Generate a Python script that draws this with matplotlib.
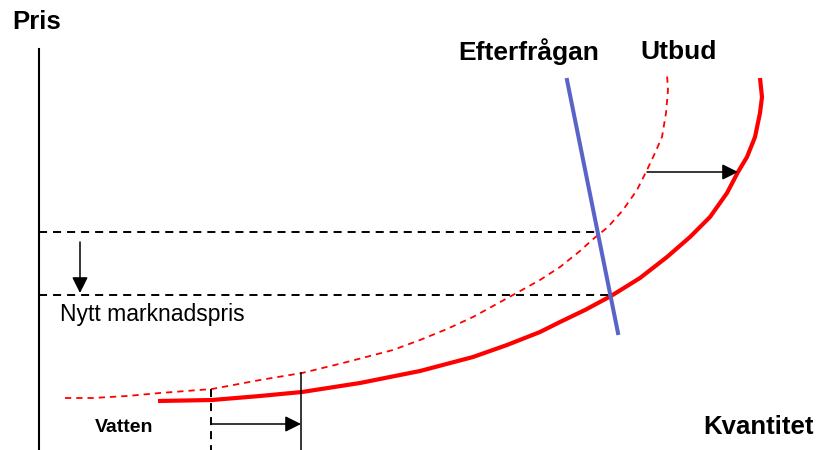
import matplotlib.pyplot as plt

plt.rcParams['font.family'] = ['Liberation Sans', 'DejaVu Sans']
plt.rcParams['lines.scale_dashes'] = False

# old supply curve (dashed) in pixel coords
old_x = [65, 93, 127, 160, 212, 260, 302, 343, 393, 420, 447, 473, 493, 513, 540, 560,
         580, 592, 608, 623, 637, 647, 655, 662, 666, 668, 667]
old_y = [398, 398, 396, 393, 389, 380, 373, 363, 350, 340, 329, 317, 306, 295, 280, 267,
         251, 240, 227, 210, 190, 170, 153, 137, 113, 90, 75]

# new supply curve (solid)
new_x = [158, 212, 260, 302, 360, 420, 473, 507, 540, 560, 585, 611, 640, 667, 690, 710,
         727, 738, 747, 755, 760, 762, 760]
new_y = [401, 400, 396, 392, 383, 371, 357, 345, 332, 322, 310, 296, 278, 257, 237, 217,
         193, 172, 157, 137, 113, 97, 78]

# demand line
dem_x = [567, 618]
dem_y = [80, 333]

# price levels
old_price = 232
new_price = 295
old_q = 598
new_q = 611

fig = plt.figure(figsize=(8.26, 4.5), dpi=100)
ax = fig.add_axes([0, 0, 1, 1])
ax.set_xlim(0, 826)
ax.set_ylim(450, 0)
ax.axis('off')

# y axis
ax.plot([39, 39], [49, 450], color='black', lw=1.5)

# price lines
ax.plot([39, old_q], [old_price, old_price], color='black', lw=1.4, dashes=(5.8, 4.3))
ax.plot([39, new_q], [new_price, new_price], color='black', lw=1.4, dashes=(5.8, 4.3))

# supply curves
ax.plot(old_x, old_y, color='red', lw=1.3, dashes=(4.5, 3.6))
ax.plot(new_x, new_y, color='red', lw=3.0, solid_capstyle='butt', solid_joinstyle='round')

# demand
ax.plot(dem_x, dem_y, color='#5a64c8', lw=2.9)

# water shift
ax.plot([211, 211], [389, 450], color='black', lw=1.4, dashes=(5.8, 4.3))
ax.plot([301, 301], [373, 450], color='black', lw=1.1)

arrow = dict(arrowstyle='-|>', color='black', lw=1.1, mutation_scale=24, shrinkA=0, shrinkB=0)
ax.annotate('', xy=(301, 424), xytext=(211, 424), arrowprops=arrow)
ax.annotate('', xy=(738, 172), xytext=(647, 172), arrowprops=arrow)
ax.annotate('', xy=(80, 293), xytext=(80, 242), arrowprops=arrow)

# labels
ax.text(12, 22, 'Pris', fontsize=18.5, fontweight='bold', va='center', ha='left')
ax.text(458, 52, 'Efterfrågan', fontsize=19, fontweight='bold', va='center', ha='left')
ax.text(640, 52, 'Utbud', fontsize=19, fontweight='bold', va='center', ha='left')
ax.text(703, 427, 'Kvantitet', fontsize=18.5, fontweight='bold', va='center', ha='left')
ax.text(95, 428, 'Vatten', fontsize=14, fontweight='bold', va='center', ha='left')
ax.text(60, 314, 'Nytt marknadspris', fontsize=16.5, va='center', ha='left')

fig.savefig('out.png', dpi=100)
